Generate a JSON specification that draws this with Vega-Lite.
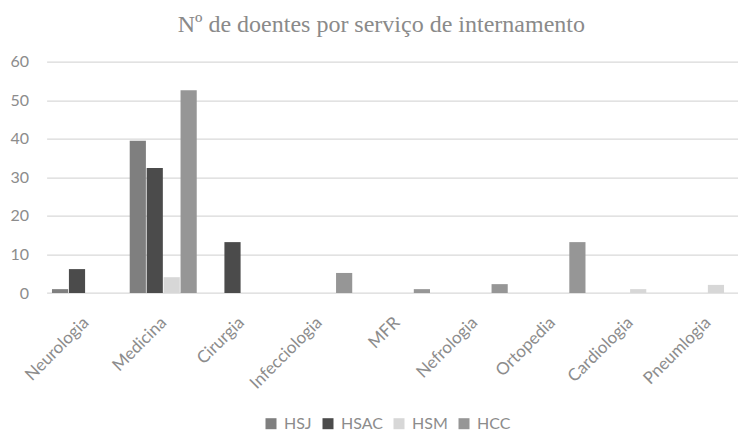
{
  "$schema": "https://vega.github.io/schema/vega-lite/v6.json",
  "width": 691.4,
  "height": 231.3,
  "autosize": {"type": "none"},
  "padding": {"left": 46.6, "top": 61.7, "right": 0, "bottom": 140},
  "background": "white",
  "title": {
    "text": "Nº de doentes por serviço de internamento",
    "font": "Liberation Serif",
    "fontSize": 24,
    "fontWeight": "normal",
    "color": "#8a8a8a",
    "anchor": "middle",
    "dx": -11,
    "offset": 17
  },
  "config": {"view": {"stroke": null}, "font": "Lato"},
  "data": {
    "values": [
      {"servico": "Neurologia", "hospital": "HSJ", "valor": 1.0},
      {"servico": "Neurologia", "hospital": "HSAC", "valor": 6.2},
      {"servico": "Neurologia", "hospital": "HSM", "valor": 0},
      {"servico": "Neurologia", "hospital": "HCC", "valor": 0},
      {"servico": "Medicina", "hospital": "HSJ", "valor": 39.5},
      {"servico": "Medicina", "hospital": "HSAC", "valor": 32.4},
      {"servico": "Medicina", "hospital": "HSM", "valor": 4.1},
      {"servico": "Medicina", "hospital": "HCC", "valor": 52.6},
      {"servico": "Cirurgia", "hospital": "HSJ", "valor": 0},
      {"servico": "Cirurgia", "hospital": "HSAC", "valor": 13.2},
      {"servico": "Cirurgia", "hospital": "HSM", "valor": 0},
      {"servico": "Cirurgia", "hospital": "HCC", "valor": 0},
      {"servico": "Infecciologia", "hospital": "HSJ", "valor": 0},
      {"servico": "Infecciologia", "hospital": "HSAC", "valor": 0},
      {"servico": "Infecciologia", "hospital": "HSM", "valor": 0},
      {"servico": "Infecciologia", "hospital": "HCC", "valor": 5.2},
      {"servico": "MFR", "hospital": "HSJ", "valor": 0},
      {"servico": "MFR", "hospital": "HSAC", "valor": 0},
      {"servico": "MFR", "hospital": "HSM", "valor": 0},
      {"servico": "MFR", "hospital": "HCC", "valor": 1.0},
      {"servico": "Nefrologia", "hospital": "HSJ", "valor": 0},
      {"servico": "Nefrologia", "hospital": "HSAC", "valor": 0},
      {"servico": "Nefrologia", "hospital": "HSM", "valor": 0},
      {"servico": "Nefrologia", "hospital": "HCC", "valor": 2.3},
      {"servico": "Ortopedia", "hospital": "HSJ", "valor": 0},
      {"servico": "Ortopedia", "hospital": "HSAC", "valor": 0},
      {"servico": "Ortopedia", "hospital": "HSM", "valor": 0},
      {"servico": "Ortopedia", "hospital": "HCC", "valor": 13.2},
      {"servico": "Cardiologia", "hospital": "HSJ", "valor": 0},
      {"servico": "Cardiologia", "hospital": "HSAC", "valor": 0},
      {"servico": "Cardiologia", "hospital": "HSM", "valor": 1.0},
      {"servico": "Cardiologia", "hospital": "HCC", "valor": 0},
      {"servico": "Pneumlogia", "hospital": "HSJ", "valor": 0},
      {"servico": "Pneumlogia", "hospital": "HSAC", "valor": 0},
      {"servico": "Pneumlogia", "hospital": "HSM", "valor": 2.1},
      {"servico": "Pneumlogia", "hospital": "HCC", "valor": 0}
    ]
  },
  "mark": {"type": "bar"},
  "encoding": {
    "x": {
      "field": "servico",
      "type": "nominal",
      "sort": ["Neurologia", "Medicina", "Cirurgia", "Infecciologia", "MFR", "Nefrologia", "Ortopedia", "Cardiologia", "Pneumlogia"],
      "scale": {"range": [0, 699.75], "paddingInner": 0.138, "paddingOuter": 0.069},
      "title": null,
      "axis": {
        "labelAngle": -45,
        "labelFont": "Lato",
        "labelFontSize": 17,
        "labelColor": "#8c8c8c",
        "labelPadding": 21,
        "labelOffset": -5,
        "ticks": false,
        "domain": false,
        "grid": false
      }
    },
    "xOffset": {
      "field": "hospital",
      "type": "nominal",
      "sort": ["HSJ", "HSAC", "HSM", "HCC"],
      "scale": {"paddingInner": 0.045, "paddingOuter": 0}
    },
    "y": {
      "field": "valor",
      "type": "quantitative",
      "scale": {"domain": [0, 60]},
      "title": null,
      "axis": {
        "values": [0, 10, 20, 30, 40, 50, 60],
        "labelFont": "Lato",
        "labelFontSize": 16,
        "labelColor": "#8c8c8c",
        "labelPadding": 18,
        "ticks": false,
        "domain": false,
        "grid": true,
        "gridColor": "#d9d9d9",
        "gridWidth": 1.3
      }
    },
    "color": {
      "field": "hospital",
      "type": "nominal",
      "sort": ["HSJ", "HSAC", "HSM", "HCC"],
      "scale": {"domain": ["HSJ", "HSAC", "HSM", "HCC"], "range": ["#7f7f7f", "#4b4b4b", "#d7d7d7", "#969696"]},
      "title": null,
      "legend": {
        "orient": "none",
        "direction": "horizontal",
        "legendX": 216.4,
        "legendY": 354,
        "symbolType": "square",
        "symbolSize": 121,
        "symbolStrokeWidth": 0,
        "labelFont": "Lato",
        "labelFontSize": 16,
        "labelColor": "#8c8c8c",
        "labelOffset": 5,
        "columnPadding": 8
      }
    }
  }
}
